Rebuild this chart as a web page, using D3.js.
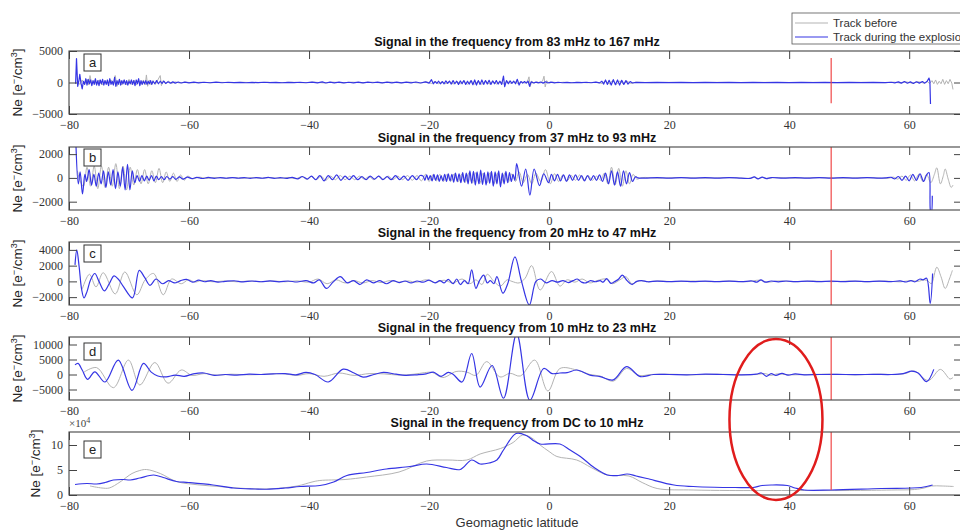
<!DOCTYPE html>
<html>
<head>
<meta charset="utf-8">
<script src="https://cdn.jsdelivr.net/npm/d3@7"></script>
<style>
  body { margin: 0; background: #fff; }
  #root { width: 960px; height: 530px; overflow: hidden; }
</style>
</head>
<body>
<div id="root"></div>
<script>
// geomagnetic latitude axis
const latRange = [-80, 68.8]
const latTicks = [-80, -60, -40, -20, 0, 20, 40, 60]

const titles = [
  'Signal in the frequency from 83 mHz to 167 mHz',
  'Signal in the frequency from 37 mHz to 93 mHz',
  'Signal in the frequency from 20 mHz to 47 mHz',
  'Signal in the frequency from 10 mHz to 23 mHz',
  'Signal in the frequency from DC to 10 mHz'
]
const letters = ['a', 'b', 'c', 'd', 'e']
const yDomains = [[-5000, 5000], [-2700, 2600], [-3000, 5000], [-8500, 12500], [0, 12.6]]
const yTicks = [[-5000, 0, 5000], [-2000, 0, 2000], [-2000, 0, 2000, 4000], [-5000, 0, 5000, 10000], [0, 5, 10]]
const legendLabels = ['Track before', 'Track during the explosion']

// red marker (latitude of the explosion) and its extent in each panel
const redLat = 47
const redSpan = [[-3300, 3900], [-2700, 2600], [-3000, 4000], [-8500, 12500], [1.0, 12.6]]
const circleLat = 37.8

// [latitude, Ne]
const aBefore = [
  [-78.6, 100], [-78.2, -300], [-77.8, 400], [-77.4, -300], [-77.0, 500], [-76.7, -400], [-76.5, 1100], [-76.2, -300],
  [-75.8, 300], [-75.4, -300], [-75.0, 400], [-74.5, -400], [-74.0, 300], [-73.5, -300], [-73.0, 400], [-72.6, -400],
  [-72.3, 1100], [-72.0, -600], [-71.6, 500], [-71.2, -400], [-70.8, 400], [-70.4, -400], [-70.0, 500], [-69.6, -300],
  [-69.2, 400], [-68.8, -400], [-68.4, 300], [-68.0, -300], [-67.6, 400], [-67.3, -400], [-67.1, 1200], [-66.9, -600],
  [-66.6, 400], [-66.3, -400], [-66.0, 300], [-65.6, -300], [-65.2, 400], [-64.8, 1100], [-64.6, -500], [-64.3, 300],
  [-63.9, -200], [-63.4, 200], [-62.9, -150], [-62.3, 100], [-61.6, -80], [-60.6, 60], [-59.4, -50], [-58.0, 40],
  [-56.5, -40], [-55.0, 30], [-53.0, -30], [-51.0, 30], [-49.0, -30], [-47.0, 30], [-45.0, -30], [-43.0, 40],
  [-41.0, -40], [-39.2, 60], [-37.6, -60], [-36.0, 50], [-34.4, -50], [-32.8, 50], [-31.2, -50], [-29.6, 50],
  [-28.0, -50], [-26.4, 60], [-24.8, -60], [-23.2, 60], [-21.6, -80], [-20.4, 100], [-19.6, -150], [-19.0, 200],
  [-18.4, -200], [-17.8, 150], [-17.2, -200], [-16.6, 200], [-16.0, -250], [-15.4, 200], [-14.8, -200], [-14.2, 250],
  [-13.6, -250], [-13.0, 300], [-12.4, -300], [-11.8, 250], [-11.2, -300], [-10.6, 250], [-10.0, -250], [-9.4, 200],
  [-8.8, -250], [-8.2, 200], [-7.6, -200], [-7.0, 200], [-6.4, -150], [-5.8, 150], [-5.2, -150], [-4.6, 100],
  [-4.0, -100], [-3.6, 200], [-3.35, 900], [-3.15, -650], [-2.9, 200], [-2.5, -100], [-2.0, 100], [-1.5, -100],
  [-1.1, 200], [-0.85, 1000], [-0.65, -700], [-0.4, 300], [0.0, -100], [0.6, 60], [1.4, -50], [2.4, 40],
  [3.6, -40], [5.0, 30], [6.4, -40], [7.8, 40], [8.8, -150], [9.4, 250], [10.0, -250], [10.6, 300],
  [11.2, -300], [11.8, 250], [12.4, -250], [13.0, 200], [13.6, -150], [14.4, 40], [17, -20], [20, 20],
  [24, -20], [28, 20], [32, -20], [36, 20], [40, -20], [44, 20], [48, -20], [52, 20],
  [56, -20], [57.5, 50], [58.5, -80], [59.5, 100], [60.5, -100], [61.5, 120], [62.5, -100], [63.0, 150],
  [63.4, -150], [63.8, 300], [64.1, -200], [64.4, 400], [64.7, -300], [65.0, 200], [65.3, -200], [65.6, 500],
  [65.9, -300], [66.2, 300], [66.5, -200], [66.8, 500], [67.1, -100], [67.3, -1100]
]
const aDuring = [
  [-78.9, -200], [-78.75, 3800], [-78.55, -600], [-78.35, 300], [-78.2, 1300], [-78.0, -100], [-77.8, -1000], [-77.6, 200],
  [-77.4, -300], [-77.2, 600], [-77.0, -400], [-76.8, 500], [-76.6, -200], [-76.4, 400], [-76.2, -500], [-76.0, 300],
  [-75.8, -300], [-75.6, 600], [-75.4, -400], [-75.2, 300], [-75.0, -500], [-74.8, 400], [-74.6, -200], [-74.4, 500],
  [-74.2, -400], [-74.0, 300], [-73.8, -300], [-73.6, 400], [-73.4, -500], [-73.2, 600], [-73.0, -300], [-72.8, 200],
  [-72.6, -400], [-72.4, 800], [-72.2, -600], [-72.0, 300], [-71.8, -300], [-71.6, 500], [-71.4, -400], [-71.2, 300],
  [-71.0, -200], [-70.8, 400], [-70.6, -300], [-70.4, 300], [-70.2, -400], [-70.0, 200], [-69.8, -200], [-69.6, 400],
  [-69.4, -300], [-69.2, 300], [-69.0, -500], [-68.8, 400], [-68.6, -200], [-68.4, 600], [-68.2, -500], [-68.0, 300],
  [-67.8, -300], [-67.6, 200], [-67.4, -200], [-67.2, 300], [-67.0, -300], [-66.8, 200], [-66.6, -200], [-66.4, 300],
  [-66.2, -300], [-66.0, 200], [-65.7, -200], [-65.4, 300], [-65.1, -200], [-64.8, 200], [-64.5, -150], [-64.2, 200],
  [-63.9, -150], [-63.5, 120], [-63.1, -120], [-62.7, 100], [-62.3, -100], [-61.8, 80], [-61.3, -80], [-60.7, 60],
  [-60.0, -60], [-59.2, 50], [-58.4, -50], [-57.5, 40], [-56.5, -40], [-55.5, 50], [-54.5, -40], [-53.5, 40],
  [-52.5, -30], [-51.5, 30], [-50.5, -40], [-49.5, 30], [-48.5, -30], [-47.5, 40], [-46.5, -30], [-45.5, 30],
  [-44.5, -40], [-43.5, 30], [-42.5, -30], [-41.5, 40], [-40.5, -40], [-39.5, 60], [-38.6, -60], [-37.8, 100],
  [-37.2, -80], [-36.5, 50], [-35.8, -50], [-35.0, 60], [-34.2, -50], [-33.4, 40], [-32.6, -50], [-31.8, 60],
  [-31.0, -60], [-30.2, 50], [-29.4, -40], [-28.6, 50], [-27.8, -60], [-27.0, 50], [-26.2, -50], [-25.4, 60],
  [-24.6, -60], [-23.8, 50], [-23.0, -60], [-22.2, 80], [-21.4, -80], [-20.6, 100], [-20.0, -100], [-19.6, 450],
  [-19.3, -200], [-19.0, 150], [-18.7, -150], [-18.4, 200], [-18.1, -200], [-17.8, 150], [-17.5, -200], [-17.2, 250],
  [-16.9, -150], [-16.6, 200], [-16.3, -250], [-16.0, 300], [-15.7, -200], [-15.4, 200], [-15.1, -300], [-14.8, 250],
  [-14.5, -200], [-14.2, 300], [-13.9, -300], [-13.6, 200], [-13.3, -250], [-13.0, 300], [-12.7, -350], [-12.4, 400],
  [-12.1, -400], [-11.8, 300], [-11.5, -300], [-11.2, 400], [-10.9, -300], [-10.6, 300], [-10.3, -250], [-10.0, 350],
  [-9.7, -300], [-9.4, 250], [-9.1, -200], [-8.8, 300], [-8.5, -250], [-8.2, 200], [-7.9, -300], [-7.6, 1000],
  [-7.4, -650], [-7.1, 300], [-6.8, -200], [-6.5, 250], [-6.2, -150], [-5.9, 200], [-5.6, -200], [-5.3, 500],
  [-5.0, -400], [-4.7, 150], [-4.4, -100], [-4.1, 150], [-3.8, -100], [-3.5, 200], [-3.25, -600], [-3.0, 100],
  [-2.6, -80], [-2.2, 60], [-1.8, -60], [-1.4, 80], [-1.0, -100], [-0.6, 120], [-0.2, -80], [0.3, 50],
  [0.9, -60], [1.5, 40], [2.2, -40], [3.0, 30], [3.8, -40], [4.6, 30], [5.4, -30], [6.2, 40],
  [7.0, -40], [7.8, 50], [8.4, -60], [8.8, 200], [9.1, -250], [9.4, 400], [9.7, -300], [10.0, 350],
  [10.35, -400], [10.7, 450], [11.05, -350], [11.4, 400], [11.75, -400], [12.1, 350], [12.45, -300], [12.8, 300],
  [13.15, -250], [13.5, 150], [13.9, -80], [14.5, 30], [16, -20], [18, 20], [20, -20], [22, 15],
  [24, -15], [26, 20], [28, -20], [30, 15], [32, -20], [34, 20], [36, -20], [38, 20],
  [40, -15], [42, 15], [44, -20], [46, 15], [48, -15], [50, 20], [52, -15], [54, 15],
  [56, -20], [57, 40], [57.6, -60], [58.2, 100], [58.7, -100], [59.2, 150], [59.7, -120], [60.2, 100],
  [60.7, -150], [61.2, 120], [61.7, -100], [62.2, 150], [62.6, -100], [63.0, 200], [63.3, 700], [63.45, 200],
  [63.55, -3400]
]

const bBefore = [
  [-78.6, 600], [-78.2, -200], [-77.6, -700], [-77.0, 900], [-76.4, -700], [-75.8, 1000], [-75.2, -900], [-74.6, 1000],
  [-74.0, -800], [-73.4, 900], [-72.8, -700], [-72.2, 1200], [-71.6, -900], [-71.0, 1000], [-70.4, -1000], [-69.8, 900],
  [-69.2, -600], [-68.6, 700], [-68.0, -500], [-67.4, 700], [-66.8, -500], [-66.2, 600], [-65.6, -400], [-65.0, 800],
  [-64.4, -400], [-63.8, 500], [-63.2, -300], [-62.6, 400], [-62.0, -300], [-61.4, 250], [-60.8, -200], [-60.2, 150],
  [-59.4, -80], [-58.4, 60], [-57.0, -40], [-55.5, 40], [-54.0, -30], [-52.5, 30], [-51.0, -30], [-49.5, 30],
  [-48.0, -30], [-46.5, 30], [-45.0, -40], [-43.5, 40], [-42.2, -60], [-41.2, 100], [-40.4, -100], [-39.6, 120],
  [-38.8, -150], [-38.0, 150], [-37.2, -200], [-36.4, 150], [-35.6, -150], [-34.8, 200], [-34.0, -150], [-33.2, 150],
  [-32.4, -150], [-31.6, 150], [-30.8, -100], [-30.0, 100], [-29.2, -150], [-28.4, 150], [-27.6, -100], [-26.8, 150],
  [-26.0, -150], [-25.2, 150], [-24.4, -150], [-23.6, 200], [-22.8, -200], [-22.0, 200], [-21.3, -250], [-20.6, 300],
  [-20.0, -300], [-19.4, 250], [-18.8, -250], [-18.2, 300], [-17.6, -300], [-17.0, 300], [-16.4, -300], [-15.8, 350],
  [-15.2, -350], [-14.6, 300], [-14.0, -400], [-13.4, 400], [-12.8, -450], [-12.2, 450], [-11.6, -500], [-11.0, 400],
  [-10.4, -450], [-9.8, 450], [-9.2, -500], [-8.6, 400], [-8.0, -450], [-7.4, 400], [-6.8, -350], [-6.2, 350],
  [-5.6, -300], [-5.0, 500], [-4.3, -400], [-3.6, 300], [-2.9, -500], [-2.2, 400], [-1.4, -300], [-0.6, 700],
  [0.2, -500], [0.9, 350], [1.6, -300], [2.3, 250], [3.0, -250], [3.7, 200], [4.4, -200], [5.1, 250],
  [5.8, -200], [6.5, 200], [7.2, -200], [7.9, 150], [8.6, -200], [9.2, 400], [9.8, -500], [10.4, 900],
  [11.0, -600], [11.6, 800], [12.2, -700], [12.8, 600], [13.4, -500], [14.0, 300], [14.6, -100], [15.5, 30],
  [18, -20], [22, 20], [26, -20], [30, 20], [33.5, -30], [34.2, 60], [34.9, -60], [35.6, 50],
  [36.3, -50], [37.5, 20], [41, -20], [45, 20], [49, -20], [53, 20], [56.5, -30], [57.4, 60],
  [58.1, -100], [58.8, 150], [59.5, -200], [60.2, 250], [60.9, -250], [61.6, 300], [62.3, -300], [62.9, 300],
  [63.6, -400], [64.2, 300], [64.6, 850], [65.2, -500], [65.7, 200], [66.0, 750], [66.5, -100], [67.0, -800],
  [67.3, -600]
]
const bDuring = [
  [-78.85, 2900], [-78.45, -500], [-78.15, 500], [-77.75, -1350], [-77.35, 300], [-77.05, -300], [-76.65, 700], [-76.25, -600],
  [-75.85, 300], [-75.45, -700], [-75.05, 400], [-74.65, -500], [-74.25, 600], [-73.85, -800], [-73.45, 500], [-73.05, -600],
  [-72.65, 700], [-72.25, -900], [-71.85, 500], [-71.45, -700], [-71.05, 900], [-70.65, -1000], [-70.25, 1150], [-69.85, -1000],
  [-69.45, 600], [-69.05, -400], [-68.65, 200], [-68.25, -300], [-67.85, 200], [-67.45, -250], [-67.05, 150], [-66.65, -200],
  [-66.25, 200], [-65.85, -250], [-65.45, 150], [-65.05, -150], [-64.6, 100], [-64.15, -150], [-63.7, 120], [-63.2, -100],
  [-62.7, 100], [-62.2, -120], [-61.6, 80], [-61.0, -100], [-60.3, 60], [-59.5, -60], [-58.7, 50], [-57.8, -50],
  [-56.8, 40], [-55.8, -40], [-54.8, 30], [-53.8, -30], [-52.8, 30], [-51.8, -30], [-50.8, 30], [-49.8, -40],
  [-48.8, 30], [-47.8, -30], [-46.8, 40], [-45.8, -40], [-44.8, 30], [-43.8, -40], [-42.8, 50], [-41.9, -80],
  [-41.1, 120], [-40.3, -100], [-39.6, 150], [-38.9, -150], [-38.2, 200], [-37.5, -250], [-36.8, 200], [-36.1, -150],
  [-35.4, 250], [-34.7, -200], [-34.0, 150], [-33.3, -150], [-32.6, 200], [-31.9, -150], [-31.2, 100], [-30.5, -150],
  [-29.8, 150], [-29.1, -100], [-28.4, 150], [-27.7, -150], [-27.0, 100], [-26.3, -150], [-25.6, 200], [-24.9, -150],
  [-24.2, 150], [-23.5, -200], [-22.8, 200], [-22.1, -150], [-21.5, 200], [-21.0, 150], [-20.7, -200], [-20.4, 250],
  [-20.1, -150], [-19.8, 200], [-19.5, -250], [-19.2, 300], [-18.9, -200], [-18.6, 250], [-18.3, -300], [-18.0, 200],
  [-17.7, -250], [-17.4, 300], [-17.1, -300], [-16.8, 350], [-16.5, -250], [-16.2, 300], [-15.9, -350], [-15.6, 400],
  [-15.3, -300], [-15.0, 350], [-14.7, -400], [-14.4, 450], [-14.1, -350], [-13.8, 400], [-13.5, -500], [-13.2, 600],
  [-12.9, -450], [-12.6, 550], [-12.3, -600], [-12.0, 500], [-11.7, -500], [-11.4, 650], [-11.1, -550], [-10.8, 450],
  [-10.5, -600], [-10.2, 500], [-9.9, -450], [-9.6, 550], [-9.3, -700], [-9.0, 500], [-8.7, -500], [-8.4, 600],
  [-8.1, -750], [-7.8, 400], [-7.5, -500], [-7.2, 550], [-6.9, -400], [-6.6, 450], [-6.3, -300], [-6.0, 300],
  [-5.7, -200], [-5.4, 1200], [-4.6, -700], [-3.9, 750], [-3.2, -1450], [-2.5, 750], [-1.6, -650], [-0.9, 350],
  [-0.1, -400], [0.4, 300], [0.9, -250], [1.4, 300], [1.9, -250], [2.4, 250], [2.9, -300], [3.4, 250],
  [3.9, -200], [4.4, 250], [4.9, -200], [5.4, 200], [5.9, -250], [6.4, 200], [6.9, -200], [7.4, 200],
  [7.9, -200], [8.4, 250], [8.9, -300], [9.4, 400], [9.9, -500], [10.4, 600], [10.9, -600], [11.4, 500],
  [11.9, -700], [12.4, 600], [12.9, -500], [13.4, 450], [13.9, -300], [14.4, 100], [14.8, 0], [16, -20],
  [18, 20], [20, -20], [22, 20], [24, -20], [26, 20], [28, -20], [30, 20], [32, -20],
  [33.5, -40], [34.2, 80], [34.8, -80], [35.5, 60], [36.2, -60], [37, 30], [39, -20], [41, 20],
  [43, -20], [45, 20], [47, -20], [49, 20], [51, -20], [53, 20], [55, -20], [56, 0],
  [57, 50], [57.6, -80], [58.2, 120], [58.8, -200], [59.4, 150], [60.0, -250], [60.6, 300], [61.2, -200],
  [61.8, 350], [62.4, -300], [62.9, 250], [63.3, 450], [63.55, -2800], [63.7, -2900], [63.85, -1500]
]

const cBefore = [
  [-77.8, -1000], [-76.6, 900], [-75.5, -700], [-74.3, 1100], [-72.3, -1600], [-70.7, 1200], [-68.7, -1700], [-67.3, 200],
  [-65.9, 1000], [-64.3, -1700], [-62.9, 300], [-61.3, -300], [-60.1, 200], [-59, -100], [-58, 100], [-56, -50],
  [-54, 50], [-52, -50], [-50, 40], [-48, -40], [-46, 50], [-44, -50], [-42, 60], [-40, -100],
  [-38.5, 300], [-37, -300], [-35.5, 200], [-34, -200], [-32.5, 100], [-31, -200], [-29.5, 100], [-28, -150],
  [-26.5, 100], [-25, -100], [-23.5, 50], [-22, -100], [-20.5, 200], [-19, -150], [-17.5, 150], [-16, -200],
  [-14.5, 300], [-13.2, -300], [-12.2, 200], [-11.2, -400], [-10.3, 900], [-9.2, 0], [-8.1, -600], [-7.0, 200],
  [-6.2, 0], [-5.0, -200], [-4.0, 400], [-2.9, 2000], [-1.5, -1100], [0.4, 1250], [1.8, -600], [3.0, 200],
  [4.3, -100], [5.5, 300], [6.8, -200], [8.0, 100], [9.5, 300], [10.5, -300], [11.8, 200], [12.8, 600],
  [13.8, -300], [15, 100], [16.5, -50], [18, 50], [21, -40], [24, 40], [27, -40], [30, 40],
  [33, -40], [35, 150], [36.5, -100], [38, 50], [41, -40], [44, 40], [47, -40], [50, 40],
  [53, -40], [56, 40], [58.5, -60], [60.3, 100], [61.5, 0], [62.5, 200], [63.2, 0], [63.7, -300],
  [64.6, 1800], [65.3, 600], [66.0, -900], [66.7, 300], [67.2, 1400]
]
const cDuring = [
  [-79.0, 2100], [-78.7, 4000], [-78.3, 1800], [-77.9, -1000], [-77.5, -2100], [-77.0, -1300], [-76.4, 200], [-75.7, 1000],
  [-75.0, 0], [-74.1, -1200], [-73.3, -300], [-72.5, 700], [-71.8, 300], [-70.9, -700], [-69.4, -2100], [-68.3, 1400],
  [-67.4, 500], [-66.5, -500], [-65.5, 300], [-64.4, -300], [-63.4, 100], [-62.4, -200], [-61.4, 100], [-60.4, 250],
  [-59.4, -100], [-58.4, 150], [-57.4, -50], [-56.4, 100], [-55.2, -100], [-54, 0], [-52.5, 80], [-51, -60],
  [-49.5, 50], [-48, -50], [-46.5, 60], [-45, -60], [-43.5, 50], [-42, -80], [-40.5, 100], [-39.2, -200],
  [-38.3, 200], [-37.1, -900], [-36.0, -100], [-34.8, 600], [-33.6, -200], [-32.6, 100], [-31.5, -400], [-30.4, 200],
  [-29.3, -200], [-28.2, 100], [-27.1, -300], [-26.0, 100], [-25, -150], [-24, 50], [-23, -200], [-22, 50],
  [-21, -100], [-20, 150], [-19.0, -200], [-18.2, 100], [-17.5, -200], [-16.8, 250], [-16.0, -300], [-15.4, 300],
  [-14.8, -400], [-14.1, 100], [-13.5, -300], [-12.9, 1450], [-12.2, -880], [-11.6, 100], [-10.9, 800], [-10.3, -200],
  [-9.8, 100], [-9.2, -300], [-8.7, 600], [-7.7, -1500], [-6.9, -300], [-5.7, 3100], [-4.6, 0], [-3.3, -3000],
  [-2.2, 0], [-1.4, 300], [-0.5, -200], [0.5, 100], [1.4, -100], [2.3, 100], [3.2, -150], [4.0, 100],
  [4.7, 300], [5.4, -100], [6.1, -200], [6.9, 100], [7.7, -50], [8.5, 100], [9.0, -100], [9.6, 350],
  [10.3, -250], [11.0, 0], [11.6, 300], [12.2, 800], [13.0, 100], [13.8, -400], [14.6, 0], [15.4, 100],
  [16.5, -50], [18, 40], [20, -40], [22, 30], [24, -30], [26, 40], [28, -30], [30, 40],
  [32, -40], [33.8, 50], [34.6, -100], [35.3, 200], [36.0, -100], [37, 50], [38.2, -60], [39.5, 50],
  [41, -40], [43, 30], [45, -30], [47, 30], [49, -30], [51, 30], [53, -30], [55, 40],
  [57, -40], [58.5, 60], [59.5, -80], [60.3, 100], [61.0, -50], [61.8, 300], [62.3, 200], [62.9, 400],
  [63.5, -2800], [63.9, 1000]
]

const dBefore = [
  [-77.5, 800], [-75.4, 2300], [-72.6, -4400], [-70.1, 4800], [-68.2, -3500], [-65.7, 4000], [-63.5, -2900], [-61.3, 1500],
  [-59.5, -300], [-57.5, 300], [-55.5, -200], [-53, 100], [-50, -100], [-47, 100], [-44.5, 300], [-42, -300],
  [-40, 300], [-37.5, -600], [-35, 500], [-32.5, -300], [-30, 300], [-27.5, 200], [-25, -200], [-22.5, 100],
  [-20.8, 600], [-19.5, 700], [-17.7, -1000], [-15.5, 1000], [-13.7, 800], [-12.2, -300], [-10.4, 4300], [-8.2, -800],
  [-6.5, 400], [-4.8, -500], [-2.4, 4800], [-0.2, -5500], [1.8, 2000], [4.6, 1500], [6.8, 0], [8.5, -500],
  [10.7, -2200], [12.9, 2000], [15, -300], [17, 0], [20, 100], [24, -100], [28, 100], [32, -100],
  [34.5, 0], [36, 300], [37, -300], [38, 200], [40, -100], [43, 0], [47, 100], [51, -100],
  [55, 100], [58, 0], [59.5, 400], [60.8, 1200], [63.2, -2000], [65.2, 1700], [66.8, -1500], [67.3, -1000]
]
const dDuring = [
  [-79.0, 3200], [-78.5, 3700], [-77.8, 1500], [-76.9, -1600], [-75.7, 900], [-74.0, -2500], [-71.8, 4800], [-69.5, -5300],
  [-67.6, 3700], [-66.3, 800], [-65.2, -500], [-63.8, -800], [-62.3, -200], [-60.8, -600], [-59.3, 200], [-57.5, 500],
  [-55.8, -300], [-54, 0], [-52, -200], [-50, 100], [-48, 0], [-46, 200], [-44, 300], [-42.2, -100],
  [-40.5, 700], [-39, 0], [-36.8, -2500], [-34.3, 1800], [-32.5, 500], [-31, -900], [-29.2, 0], [-27.6, 700],
  [-25.5, 100], [-24, -300], [-22, -100], [-20.5, 200], [-19.3, 800], [-18, -600], [-16.8, 700], [-16.0, 100],
  [-14.5, -2500], [-12.9, 7000], [-11.5, -4200], [-9.5, 3000], [-7.6, -7900], [-5.4, 13500], [-3.2, -8600], [-0.9, 2000],
  [0.5, 300], [1.8, 500], [3.0, 600], [4.6, 1500], [6.8, -200], [8.5, -700], [10.7, -1800], [12.9, 2600],
  [15.2, -700], [17.4, 0], [20, 0], [23, -100], [26, 100], [29, 0], [32, -100], [34.5, 100],
  [35.4, 500], [36.2, -600], [37, 300], [37.8, -300], [38.8, 400], [39.8, -200], [41, 200], [42.5, -100],
  [45, 0], [48, 50], [51, -50], [54, 50], [57, 0], [59, 300], [60.4, 1100], [61.5, 500],
  [62.9, -2400], [64.1, 1700]
]

// panel e in units of 1e4 e-/cm3
const eBefore = [
  [-76.5, 1.8], [-74.5, 1.4], [-73.3, 1.4], [-71.5, 2.6], [-69.5, 4.3], [-68.2, 4.9], [-67.1, 5.1], [-64.8, 4.3],
  [-62.1, 2.7], [-58.2, 2.0], [-55, 1.7], [-52, 1.4], [-47, 1.2], [-42, 1.8], [-39.5, 2.6], [-38.2, 2.9],
  [-34, 3.1], [-30.4, 3.6], [-25, 4.6], [-20.4, 6.8], [-17, 7.0], [-13.7, 7.0], [-11.5, 8.2], [-8.1, 9.3],
  [-6, 10.5], [-4.4, 12.0], [-3, 11.5], [-1.5, 10.0], [0, 8.7], [1.3, 7.7], [4.6, 7.0], [7, 5.5],
  [9.7, 4.0], [13.3, 3.8], [15.5, 2.5], [18, 1.3], [24, 1.0], [30, 0.9], [40, 0.9], [50, 0.9],
  [57, 1.0], [60.9, 1.1], [62.5, 1.4], [63.7, 1.8], [65.5, 1.8], [67.4, 1.7]
]
const eDuring = [
  [-79, 2.1], [-77, 2.3], [-75.4, 2.2], [-74, 2.5], [-72.6, 3.0], [-71, 3.1], [-69.8, 3.0], [-68.2, 3.4],
  [-65.9, 4.0], [-64.3, 3.5], [-62.1, 2.7], [-60.1, 2.5], [-56, 2.0], [-52.6, 1.4], [-49, 1.2], [-47.1, 1.15],
  [-44, 1.4], [-41.5, 1.7], [-38.2, 1.9], [-35.9, 2.6], [-33.7, 3.9], [-30.4, 4.5], [-27.1, 5.2], [-23.2, 5.7],
  [-20.4, 6.2], [-17.1, 5.5], [-14.8, 5.1], [-12.9, 7.0], [-11.5, 6.2], [-10, 6.4], [-8.7, 7.0], [-7.6, 9.0],
  [-5.5, 12.3], [-3.8, 11.9], [-2.5, 10.8], [-1.5, 10.2], [1.8, 10.2], [3.5, 9.0], [5.2, 7.7], [7.5, 5.5],
  [9.7, 4.0], [11.5, 3.9], [13, 4.2], [14.5, 3.8], [16.3, 3.3], [20.8, 2.0], [24, 1.7], [27.5, 1.55],
  [31, 1.5], [34, 1.5], [35.5, 1.9], [37, 2.0], [39.7, 1.9], [41, 1.4], [42.5, 1.0], [47, 1.0],
  [55.3, 1.3], [62, 1.5], [63.9, 2.0]
]

const before = [aBefore, bBefore, cBefore, dBefore, eBefore]
const during = [aDuring, bDuring, cDuring, dDuring, eDuring]

// layout
const div = document.getElementById('root')
const width = 960
const height = 530
const svg = d3.select(div).append('svg').attr('width', width).attr('height', height)

const plotLeft = 69
const plotRight = 962
const panelTop = [51, 147, 242, 337, 432]
const panelH = 63
const boxDy = [3, 2, 3, 6, 9]

const grey = '#b3b3b3'
const blue = '#3535e4'
const red = '#f04848'
const axisColor = '#444'

const serif = '"Liberation Serif", "Times New Roman", serif'
const sans = '"Liberation Sans", Arial, sans-serif'

const x = d3.scaleLinear().domain(latRange).range([plotLeft, plotRight])
const fmt = (v) => String(v).replace('-', '\u2212')

for (let i = 0; i < 5; i++) {
  const top = panelTop[i]
  const y = d3.scaleLinear().domain(yDomains[i]).range([top + panelH, top])
  const g = svg.append('g')

  g.append('clipPath')
    .attr('id', 'clip' + i)
    .append('rect')
    .attr('x', plotLeft)
    .attr('y', top)
    .attr('width', plotRight - plotLeft)
    .attr('height', panelH)

  const line = d3
    .line()
    .x((d) => x(d[0]))
    .y((d) => y(d[1]))
    .curve(i === 0 ? d3.curveLinear : d3.curveCatmullRom.alpha(0.5))

  g.append('path')
    .datum(before[i])
    .attr('clip-path', `url(#clip${i})`)
    .attr('fill', 'none')
    .attr('stroke', grey)
    .attr('stroke-width', 1)
    .attr('d', line)

  g.append('path')
    .datum(during[i])
    .attr('clip-path', `url(#clip${i})`)
    .attr('fill', 'none')
    .attr('stroke', blue)
    .attr('stroke-width', 1.2)
    .attr('stroke-linejoin', 'round')
    .attr('d', line)

  g.append('line')
    .attr('x1', x(redLat))
    .attr('x2', x(redLat))
    .attr('y1', y(redSpan[i][0]))
    .attr('y2', y(redSpan[i][1]))
    .attr('stroke', red)
    .attr('stroke-width', 1.2)

  // axes with inward ticks on all four sides
  const axes = [
    [d3.axisBottom(x).tickValues(latTicks).tickFormat(fmt).tickPadding(6), `translate(0,${top + panelH})`],
    [d3.axisTop(x).tickValues(latTicks).tickFormat(''), `translate(0,${top})`],
    [d3.axisLeft(y).tickValues(yTicks[i]).tickFormat(fmt).tickPadding(6), `translate(${plotLeft},0)`],
    [d3.axisRight(y).tickValues(yTicks[i]).tickFormat(''), `translate(${plotRight},0)`]
  ]
  axes.forEach(([ax, tr]) => {
    g.append('g')
      .attr('transform', tr)
      .attr('color', axisColor)
      .call(ax.tickSizeInner(-8).tickSizeOuter(0))
      .call((s) => s.select('.domain').remove())
      .call((s) =>
        s.selectAll('text').attr('font-family', serif).attr('font-size', 12).attr('fill', '#333')
      )
  })

  g.append('rect')
    .attr('x', plotLeft)
    .attr('y', top)
    .attr('width', plotRight - plotLeft)
    .attr('height', panelH)
    .attr('fill', 'none')
    .attr('stroke', axisColor)
    .attr('stroke-width', 1.1)

  g.append('text')
    .attr('x', 517)
    .attr('y', top - 5)
    .attr('text-anchor', 'middle')
    .attr('font-family', sans)
    .attr('font-weight', 'bold')
    .attr('font-size', 12.5)
    .attr('fill', '#111')
    .text(titles[i])

  // panel letter
  g.append('rect')
    .attr('x', plotLeft + 15)
    .attr('y', top + boxDy[i])
    .attr('width', 17)
    .attr('height', 17)
    .attr('fill', '#fff')
    .attr('stroke', '#333')
    .attr('stroke-width', 1)
  g.append('text')
    .attr('x', plotLeft + 23.5)
    .attr('y', top + boxDy[i] + 13)
    .attr('text-anchor', 'middle')
    .attr('font-family', sans)
    .attr('font-size', 13)
    .attr('fill', '#222')
    .text(letters[i])

  // y label Ne [e-/cm3]
  const yl = g.append('text')
    .attr('transform', `translate(${i === 4 ? 40 : 22},${top + panelH / 2}) rotate(-90)`)
    .attr('text-anchor', 'middle')
    .attr('font-family', sans)
    .attr('font-size', 13.5)
    .attr('fill', '#222')
  yl.append('tspan').text('Ne [e')
  yl.append('tspan').attr('dy', -5).attr('font-size', 9).text('\u2212')
  yl.append('tspan').attr('dy', 5).text('/cm')
  yl.append('tspan').attr('dy', -5).attr('font-size', 9).text('3')
  yl.append('tspan').attr('dy', 5).text(']')
}

// exponent of the last panel
const ex = svg.append('text')
  .attr('x', plotLeft)
  .attr('y', 427)
  .attr('font-family', serif)
  .attr('font-size', 11)
  .attr('fill', '#444')
ex.append('tspan').text('\u00d710')
ex.append('tspan').attr('dy', -4).attr('font-size', 8).text('4')

// red circle around the disturbance
svg.append('ellipse')
  .attr('cx', x(circleLat))
  .attr('cy', 419.5)
  .attr('rx', 46.5)
  .attr('ry', 80.5)
  .attr('fill', 'none')
  .attr('stroke', '#e01c1c')
  .attr('stroke-width', 2.5)

// x label
svg.append('text')
  .attr('x', 517)
  .attr('y', 527)
  .attr('text-anchor', 'middle')
  .attr('font-family', sans)
  .attr('font-size', 13)
  .attr('fill', '#333')
  .text('Geomagnetic latitude')

// legend
const lg = svg.append('g')
lg.append('rect')
  .attr('x', 792)
  .attr('y', 13)
  .attr('width', 200)
  .attr('height', 31)
  .attr('fill', '#fff')
  .attr('stroke', '#555')
  .attr('stroke-width', 0.8)
legendLabels.forEach((label, k) => {
  const ly = 23 + k * 14
  lg.append('line')
    .attr('x1', 795)
    .attr('x2', 828)
    .attr('y1', ly)
    .attr('y2', ly)
    .attr('stroke', k === 0 ? grey : blue)
    .attr('stroke-width', k === 0 ? 1 : 1.2)
  lg.append('text')
    .attr('x', 833)
    .attr('y', ly + 4)
    .attr('font-family', sans)
    .attr('font-size', 11.5)
    .attr('fill', '#333')
    .text(label)
})
</script>
</body>
</html>
